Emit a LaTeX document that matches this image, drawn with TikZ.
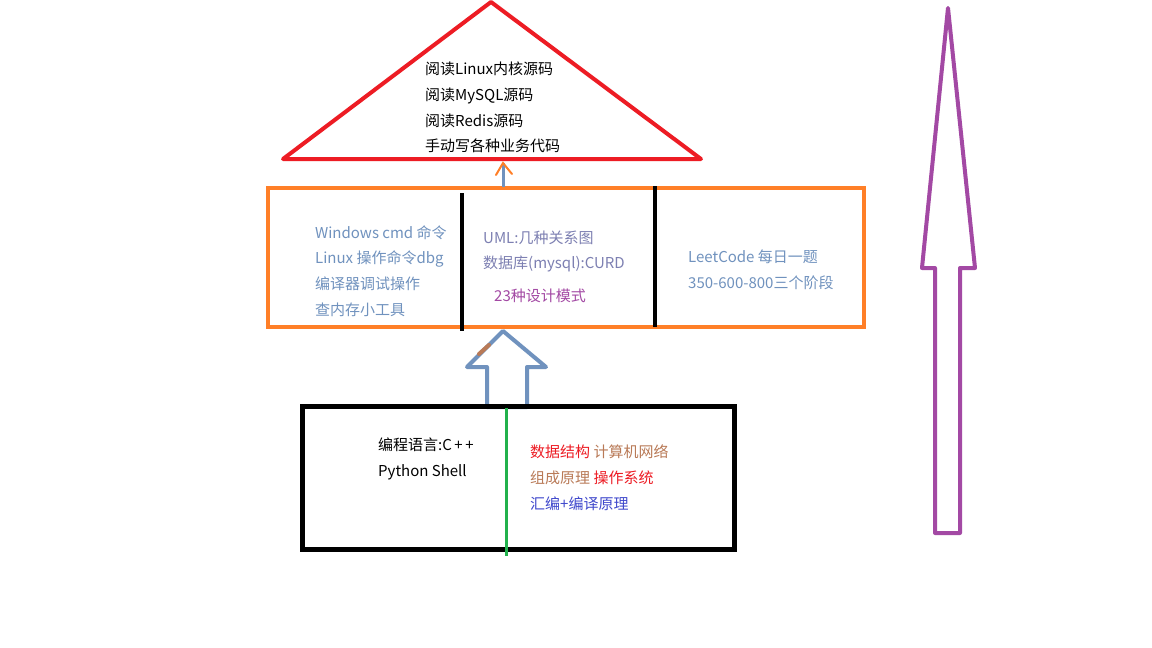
\documentclass[tikz,border=0pt]{standalone}
\usepackage{fontspec}
\setmainfont{Noto Sans CJK SC}
\definecolor{paint@red}{RGB}{237,28,36}
\definecolor{paint@orange}{RGB}{255,127,39}
\definecolor{paint@blue}{RGB}{112,146,190}
\definecolor{paint@slate}{RGB}{125,128,178}
\definecolor{paint@purple}{RGB}{163,73,164}
\definecolor{paint@green}{RGB}{34,177,76}
\definecolor{paint@brown}{RGB}{185,122,87}
\definecolor{paint@indigo}{RGB}{63,72,204}

\begin{document}
\begin{tikzpicture}[
  x=1pt, y=-1pt,
  line join=miter,
  txt/.style={anchor=west, inner sep=0pt, align=left,
    font=\fontsize{15}{25.8}\selectfont},
]
\useasboundingbox[fill=white] (0,0) rectangle (1152,648);

% reading the sources
\draw[paint@red, line width=4pt, line join=round]
  (283,159) -- (491,2) -- (701,159) -- cycle;
\node[txt] (reading) at (425,107.5) {阅读Linux内核源码\\阅读MySQL源码\\阅读Redis源码\\手动写各种业务代码};

% tools, design, practice
\draw[paint@orange, line width=4pt] (268,188) rectangle (864,327);
\coordinate (upper) at (503,187);
\coordinate (apex) at (503,163);
\draw[paint@blue, line width=3pt] (upper) -- (apex);
\draw[paint@orange, line width=2pt, line cap=round]
  (496,175) -- (apex) -- (512,174);
\draw[black, line width=4pt] (462,193) -- (462,331);
\draw[black, line width=4pt] (655,186) -- (655,327);

\node[txt, text=paint@blue] (tools) at (315,271)
  {Windows cmd 命令\\Linux 操作命令dbg\\编译器调试操作\\查内存小工具};
\node[txt, text=paint@slate] (design) at (483,251.5)
  {UML:几种关系图\\数据库(mysql):CURD};
\node[txt, text=paint@purple] (patterns) at (494,296) {23种设计模式};
\node[txt, text=paint@blue] (leetcode) at (688,270)
  {LeetCode 每日一题\\350-600-800三个阶段};

% hollow arrow into the middle box
\draw[paint@blue, line width=4pt, line join=round]
  (503,331) -- (546,367) -- (527,367) -- (527,407)
  -- (487,407) -- (487,367) -- (467,367) -- cycle;
\draw[paint@brown, line width=4pt, line cap=round] (479,354) -- (489,345);

% basics
\draw[black, line width=5pt] (302,406) rectangle (734,549);
\draw[paint@green, line width=3pt] (506,408) -- (506,556);
\node[txt] (language) at (378,459) {编程语言:C\,+\,+\\Python Shell};
\node[txt] (basics) at (530,478)
  {\textcolor{paint@red}{数据结构} \textcolor{paint@brown}{计算机网络}\\
   \textcolor{paint@brown}{组成原理} \textcolor{paint@red}{操作系统}\\
   \textcolor{paint@indigo}{汇编+编译原理}};

% overall direction
\draw[paint@purple, line width=4pt, line join=round]
  (948,8) -- (975,268) -- (960,268) -- (960,533)
  -- (935,533) -- (935,268) -- (922,268) -- cycle;

\end{tikzpicture}
\end{document}
